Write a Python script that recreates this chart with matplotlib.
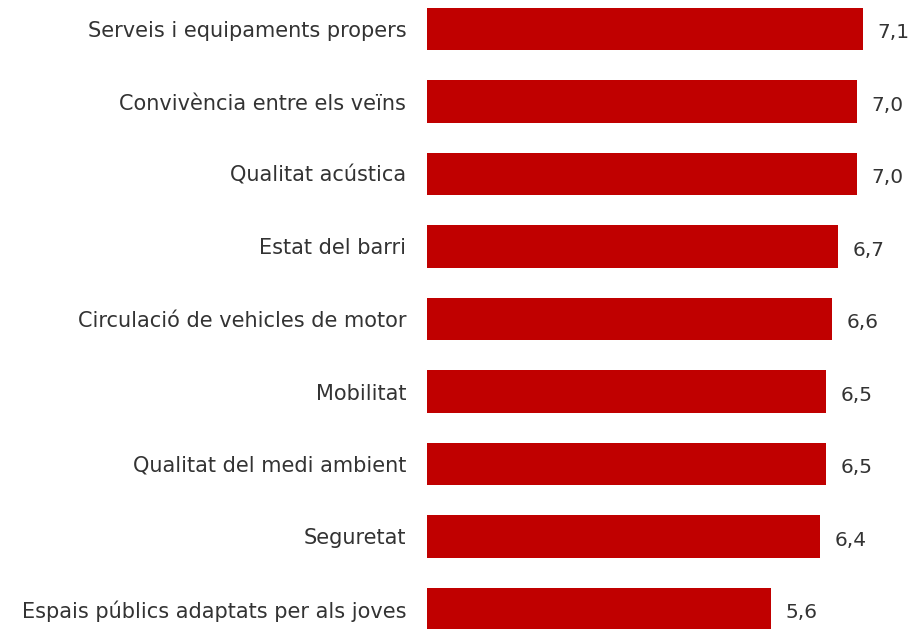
import matplotlib.pyplot as plt

categories = [
    "Serveis i equipaments propers",
    "Convivència entre els veïns",
    "Qualitat acústica",
    "Estat del barri",
    "Circulació de vehicles de motor",
    "Mobilitat",
    "Qualitat del medi ambient",
    "Seguretat",
    "Espais públics adaptats per als joves",
]
scores = [7.1, 7.0, 7.0, 6.7, 6.6, 6.5, 6.5, 6.4, 5.6]

W, H = 913, 629
fig = plt.figure(figsize=(W / 100, H / 100), dpi=100)

# axes placed in pixels: bars start at x=427, ~61.4 px per unit, 72.5 px per row
px_unit = 61.4
row = 72.5
xmax = 7.6
pad = 0.4
left = 427
top = 29 - pad * row
height = (len(categories) - 1 + 2 * pad) * row
ax = fig.add_axes([left / W, 1 - (top + height) / H, xmax * px_unit / W, height / H])

y = range(len(categories))
ax.barh(y, scores, height=0.59, color="#C00000", edgecolor="none")
ax.set_xlim(0, xmax)
ax.set_ylim(len(categories) - 1 + pad, -pad)

for yi, v in zip(y, scores):
    ax.text(v + 0.24, yi + 0.05, f"{v:.1f}".replace(".", ","), va="center", ha="left",
            fontsize=14.5, color="#333333")

ax.set_yticks(list(y))
ax.set_yticklabels(categories, fontsize=15, color="#333333")
ax.tick_params(axis="y", length=0, pad=15)
ax.set_xticks([])
for s in ax.spines.values():
    s.set_visible(False)

fig.savefig("out.png", dpi=100)
